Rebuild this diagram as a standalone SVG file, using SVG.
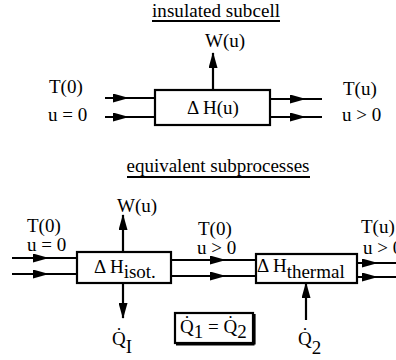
<svg xmlns="http://www.w3.org/2000/svg" width="396" height="360" viewBox="0 0 396 360">
<style>
text{font-family:"Liberation Serif","DejaVu Serif",serif;font-size:19px;fill:#000}
.ln{stroke:#000;stroke-width:2.2;fill:none}
.box{stroke:#000;stroke-width:2.2;fill:#fff}
.mid{marker-mid:url(#ah)}
.end{marker-end:url(#ah)}
</style>
<defs>
<marker id="ah" viewBox="0 0 16 9" refX="15" refY="4.5" markerWidth="16" markerHeight="9" markerUnits="userSpaceOnUse" orient="auto">
<path d="M0,0 L16,4.5 L0,9 z" fill="#000"/>
</marker>
</defs>
<rect width="396" height="360" fill="#fff"/>

<g id="title-top">
<text x="216" y="17" text-anchor="middle" textLength="128">insulated subcell</text>
<line x1="152" y1="21" x2="280" y2="21" class="ln" stroke-width="1.3"/>
</g>

<g id="box-top">
<rect x="155" y="90" width="115" height="35" class="box"/>
<text x="213" y="114" text-anchor="middle">Δ H(u)</text>
</g>
<g id="labels-top">
<text x="205" y="47">W(u)</text>
<text x="49" y="93">T(0)</text>
<text x="48" y="121">u = 0</text>
<text x="343" y="95">T(u)</text>
<text x="342" y="121">u &gt; 0</text>
</g>

<g id="title-bottom">
<text x="218" y="172" text-anchor="middle" textLength="183">equivalent subprocesses</text>
<line x1="127" y1="177" x2="310" y2="177" class="ln" stroke-width="1.3"/>
</g>

<g id="box-isot">
<rect x="77" y="252" width="94" height="31" class="box"/>
<text x="94" y="273">Δ H<tspan dy="5">isot.</tspan></text>
</g>
<g id="box-thermal">
<rect x="256" y="254" width="101" height="29" class="box"/>
<text x="257" y="272">Δ H<tspan dy="6">thermal</tspan></text>
</g>
<g id="box-equal">
<rect x="175" y="313" width="78" height="30" class="box"/>
<line x1="254.5" y1="314" x2="254.5" y2="344.5" class="ln" stroke-width="1.5"/>
<line x1="176" y1="344.5" x2="254.5" y2="344.5" class="ln" stroke-width="1.5"/>
<text x="180" y="333">Q̇<tspan dy="5">1</tspan><tspan dy="-5"> = Q̇</tspan><tspan dy="5">2</tspan></text>
</g>
<g id="labels-bottom">
<text x="117" y="212">W(u)</text>
<text x="27" y="232">T(0)</text>
<text x="27" y="251">u = 0</text>
<text x="198" y="235">T(0)</text>
<text x="197" y="254">u &gt; 0</text>
<text x="361" y="233">T(u)</text>
<text x="363" y="254">u &gt; 0</text>
<text x="112" y="345">Q̇<tspan dy="8">I</tspan></text>
<text x="298" y="345">Q̇<tspan dy="9">2</tspan></text>
</g>

<g id="connectors">
<path d="M213,90 L213,53" class="ln end"/>
<path d="M105,98 L128,98 L155,98" class="ln mid"/>
<path d="M105,117 L128,117 L155,117" class="ln mid"/>
<path d="M270,99 L305,99 L322,99" class="ln mid"/>
<path d="M270,117 L305,117 L322,117" class="ln mid"/>

<path d="M123,252 L123,215" class="ln end"/>
<path d="M123,283 L123,318" class="ln end"/>
<path d="M12,258 L48,258 L77,258" class="ln mid"/>
<path d="M12,274 L48,274 L77,274" class="ln mid"/>
<path d="M171,260 L225,260 L256,260" class="ln mid"/>
<path d="M171,276 L225,276 L256,276" class="ln mid"/>
<path d="M306,320 L306,283" class="ln end"/>
<path d="M357,263 L377,263 L396,263" class="ln mid"/>
<path d="M357,277 L377,277 L396,277" class="ln mid"/>
</g>
</svg>
